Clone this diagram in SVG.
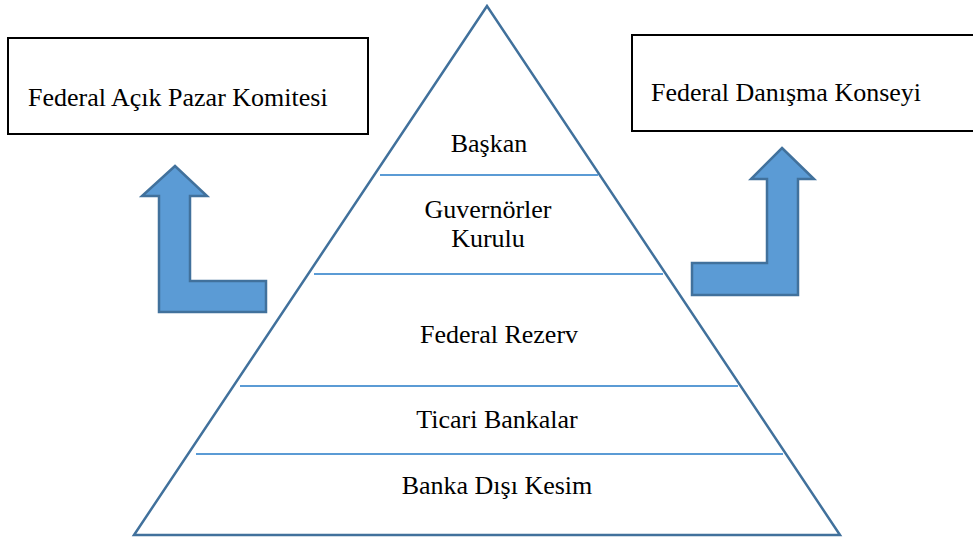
<svg xmlns="http://www.w3.org/2000/svg" width="973" height="538" viewBox="0 0 973 538">
<defs>
<style>
text{font-family:'Liberation Serif','Times New Roman',serif !important;font-size:26px;fill:#000}
.c{text-anchor:middle}
.box{fill:#fff;stroke:#000;stroke-width:2}
.arrow{fill:#5B9BD5;stroke:#41719C;stroke-width:2.5;stroke-linejoin:miter}
.tri{fill:#fff;stroke:#41719C;stroke-width:2.5}
.sep{stroke:#5B9BD5;stroke-width:2}
</style>
</defs>
<rect width="973" height="538" fill="#fff"/>
<g id="pyramid">
<polygon class="tri" points="487,6 134,535 840,535"/>
<line class="sep" x1="380" y1="175" x2="598" y2="175"/>
<line class="sep" x1="314" y1="274" x2="663" y2="274"/>
<line class="sep" x1="240" y1="386" x2="738" y2="386"/>
<line class="sep" x1="196" y1="454" x2="783" y2="454"/>
</g>
<g id="baskan"><text class="c" font-family="Liberation Serif" x="489" y="152">Başkan</text></g>
<g id="guvernorler"><text class="c" font-family="Liberation Serif" x="488" y="218">Guvernörler</text><text class="c" font-family="Liberation Serif" x="488" y="247">Kurulu</text></g>
<g id="federal-rezerv"><text class="c" font-family="Liberation Serif" x="499" y="343">Federal Rezerv</text></g>
<g id="ticari"><text class="c" font-family="Liberation Serif" x="497" y="428">Ticari Bankalar</text></g>
<g id="banka-disi"><text class="c" font-family="Liberation Serif" x="497" y="494">Banka Dışı Kesim</text></g>
<g id="fomc"><rect class="box" x="8" y="38" width="360" height="96"/><text font-family="Liberation Serif" x="28" y="106">Federal Açık Pazar Komitesi</text></g>
<g id="fdk"><rect class="box" x="632" y="35" width="345" height="96"/><text font-family="Liberation Serif" x="651" y="101">Federal Danışma Konseyi</text></g>
<g id="connectors">
<polygon class="arrow" points="175,166 207,196 190,196 190,281 266,281 266,312 159,312 159,196 142,196"/>
<polygon class="arrow" points="782,148 814,179 798,179 798,295 692,295 692,263 767,263 767,179 751,179"/>
</g>
</svg>
